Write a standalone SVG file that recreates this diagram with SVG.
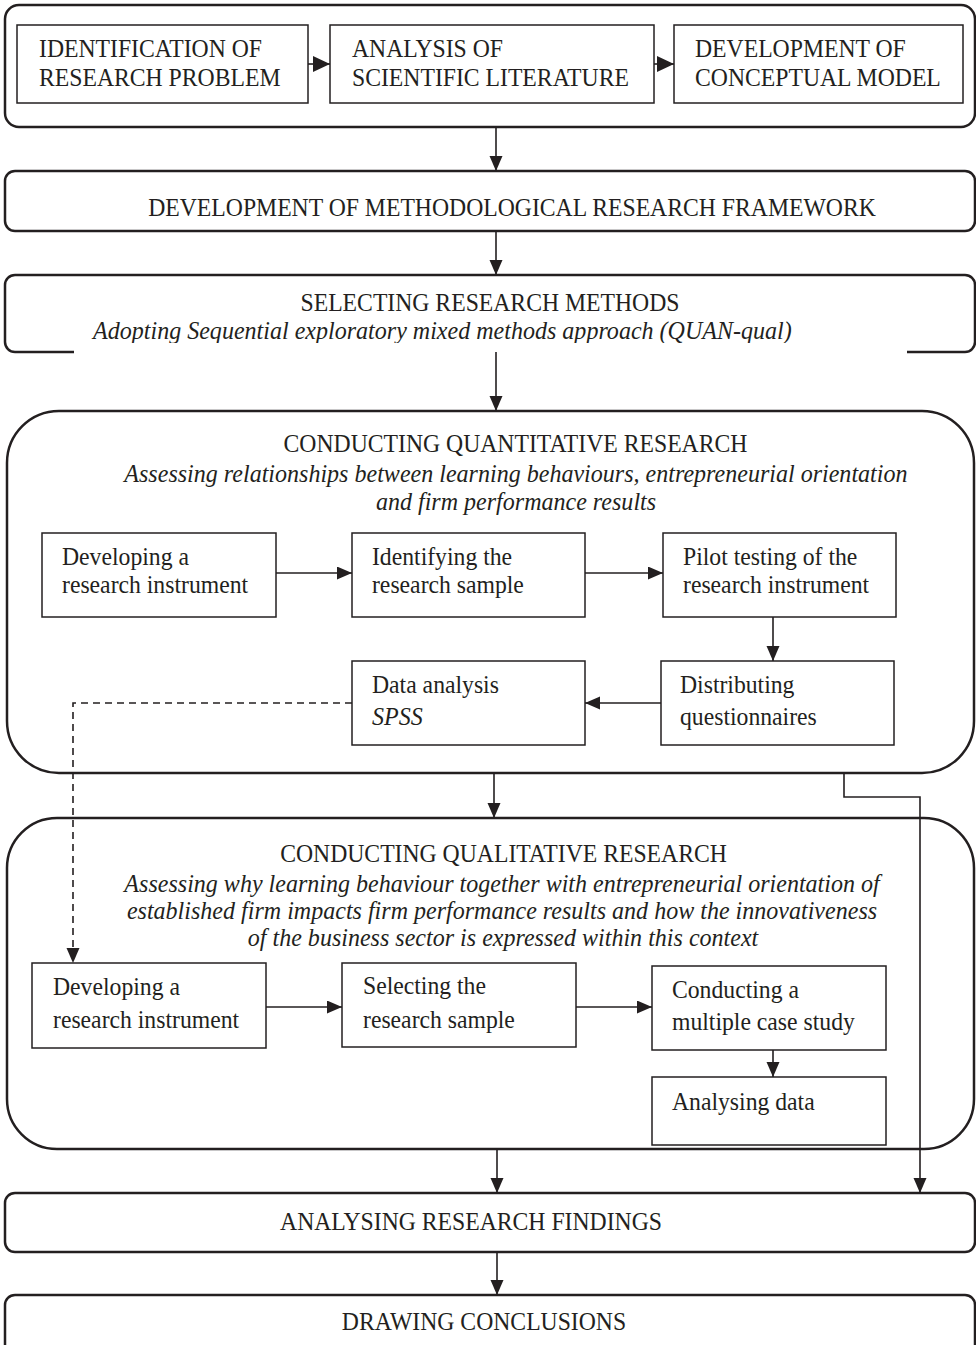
<svg xmlns="http://www.w3.org/2000/svg" width="976" height="1345" viewBox="0 0 976 1345">
<style>
.frame{fill:#fff;stroke:#231f20;stroke-width:2.5}
.box{fill:#fff;stroke:#231f20;stroke-width:1.5}
.t{font-family:"Liberation Serif","Times New Roman",serif;font-size:26px;fill:#231f20;transform-box:fill-box;transform-origin:0% 50%;transform:scaleX(0.9115)}
.c{text-anchor:middle;transform-origin:50% 50%}
.i{font-style:italic;transform:scaleX(0.925)}
.ln{fill:none;stroke:#231f20;stroke-width:1.6}
.dash{stroke-dasharray:7 5}
</style>
<defs>
<marker id="ah" markerUnits="userSpaceOnUse" markerWidth="16" markerHeight="14" refX="15" refY="6.5" orient="auto"><path d="M0,0 L15,6.5 L0,13 Z" fill="#231f20"/></marker>
<marker id="ahb" markerUnits="userSpaceOnUse" markerWidth="18" markerHeight="17" refX="17" refY="8" orient="auto"><path d="M0,0 L17,8 L0,16 Z" fill="#231f20"/></marker>
</defs>

<g id="stage1">
<rect class="frame" x="5" y="5" width="970" height="122" rx="14"/>
<g id="identification"><rect class="box" x="17" y="25" width="291" height="78"/>
<text class="t" x="39" y="57">IDENTIFICATION OF</text><text class="t" x="39" y="86.5">RESEARCH PROBLEM</text></g>
<g id="literature"><rect class="box" x="330" y="25" width="324" height="78"/>
<text class="t" x="352" y="57">ANALYSIS OF</text><text class="t" x="352" y="86.5">SCIENTIFIC LITERATURE</text></g>
<g id="conceptual"><rect class="box" x="674" y="25" width="289" height="78"/>
<text class="t" x="695" y="57">DEVELOPMENT OF</text><text class="t" x="695" y="86.5">CONCEPTUAL MODEL</text></g>
</g>

<g id="framework"><rect class="frame" x="5" y="171" width="970" height="60" rx="10"/>
<text class="t c" x="512" y="216">DEVELOPMENT OF METHODOLOGICAL RESEARCH FRAMEWORK</text></g>

<g id="methods"><rect class="frame" x="5" y="275" width="970" height="77" rx="10"/>
<text class="t c" x="490" y="311.5">SELECTING RESEARCH METHODS</text>
<text class="t c i" x="442.5" y="339">Adopting Sequential exploratory mixed methods approach (QUAN-qual)</text>
<rect x="74" y="343" width="833" height="12" fill="#fff"/></g>

<g id="quantitative"><rect class="frame" x="7" y="411" width="967" height="362" rx="52"/>
<text class="t c" x="515.5" y="452">CONDUCTING QUANTITATIVE RESEARCH</text>
<text class="t c i" x="516" y="482">Assessing relationships between learning behaviours, entrepreneurial orientation</text>
<text class="t c i" x="516" y="510">and firm performance results</text>
<g id="qn-instrument"><rect class="box" x="42" y="533" width="234" height="84"/>
<text class="t" x="62" y="565">Developing a</text><text class="t" x="62" y="593">research instrument</text></g>
<g id="qn-sample"><rect class="box" x="352" y="533" width="233" height="84"/>
<text class="t" x="372" y="565">Identifying the</text><text class="t" x="372" y="593">research sample</text></g>
<g id="qn-pilot"><rect class="box" x="663" y="533" width="233" height="84"/>
<text class="t" x="683" y="565">Pilot testing of the</text><text class="t" x="683" y="593">research instrument</text></g>
<g id="qn-analysis"><rect class="box" x="352" y="661" width="233" height="84"/>
<text class="t" x="372" y="693">Data analysis</text><text class="t i" x="372" y="725">SPSS</text></g>
<g id="qn-distribute"><rect class="box" x="661" y="661" width="233" height="84"/>
<text class="t" x="680" y="693">Distributing</text><text class="t" x="680" y="725">questionnaires</text></g>
</g>

<g id="qualitative"><rect class="frame" x="7" y="818" width="967" height="331" rx="50"/>
<text class="t c" x="503.5" y="862">CONDUCTING QUALITATIVE RESEARCH</text>
<text class="t c i" x="502" y="892">Assessing why learning behaviour together with entrepreneurial orientation of</text>
<text class="t c i" x="502" y="919">established firm impacts firm performance results and how the innovativeness</text>
<text class="t c i" x="503" y="946">of the business sector is expressed within this context</text>
<g id="ql-instrument"><rect class="box" x="32" y="963" width="234" height="85"/>
<text class="t" x="53" y="995">Developing a</text><text class="t" x="53" y="1028">research instrument</text></g>
<g id="ql-sample"><rect class="box" x="342" y="963" width="234" height="84"/>
<text class="t" x="363" y="994">Selecting the</text><text class="t" x="363" y="1028">research sample</text></g>
<g id="ql-case"><rect class="box" x="652" y="966" width="234" height="84"/>
<text class="t" x="672" y="998">Conducting a</text><text class="t" x="672" y="1030">multiple case study</text></g>
<g id="ql-data"><rect class="box" x="652" y="1077" width="234" height="68"/>
<text class="t" x="672" y="1110">Analysing data</text></g>
</g>

<g id="findings"><rect class="frame" x="5" y="1193" width="970" height="59" rx="10"/>
<text class="t c" x="471" y="1230">ANALYSING RESEARCH FINDINGS</text></g>

<g id="conclusions"><rect class="frame" x="5" y="1295" width="970" height="62" rx="10"/>
<text class="t c" x="484" y="1330">DRAWING CONCLUSIONS</text></g>

<g id="connectors">
<path class="ln" d="M308,64 H330" stroke-width="2" marker-end="url(#ahb)"/>
<path class="ln" d="M654,64 H674" stroke-width="2" marker-end="url(#ahb)"/>
<path class="ln" d="M496,127 V171" marker-end="url(#ah)"/>
<path class="ln" d="M496,231 V275" marker-end="url(#ah)"/>
<path class="ln" d="M496,352 V411" marker-end="url(#ah)"/>
<path class="ln" d="M276,573 H352" marker-end="url(#ah)"/>
<path class="ln" d="M585,573 H663" marker-end="url(#ah)"/>
<path class="ln" d="M773,617 V661" marker-end="url(#ah)"/>
<path class="ln" d="M661,703 H585" stroke-width="2" marker-end="url(#ah)"/>
<path class="ln dash" d="M352,703 H73 V963" marker-end="url(#ah)"/>
<path class="ln" d="M494,773 V818" marker-end="url(#ah)"/>
<path class="ln" d="M844,773 V797 H920 V1193" marker-end="url(#ah)"/>
<path class="ln" d="M266,1007 H342" marker-end="url(#ah)"/>
<path class="ln" d="M576,1007 H652" marker-end="url(#ah)"/>
<path class="ln" d="M773,1050 V1077" marker-end="url(#ah)"/>
<path class="ln" d="M497,1149 V1193" marker-end="url(#ah)"/>
<path class="ln" d="M497,1252 V1295" marker-end="url(#ah)"/>
</g>
</svg>
